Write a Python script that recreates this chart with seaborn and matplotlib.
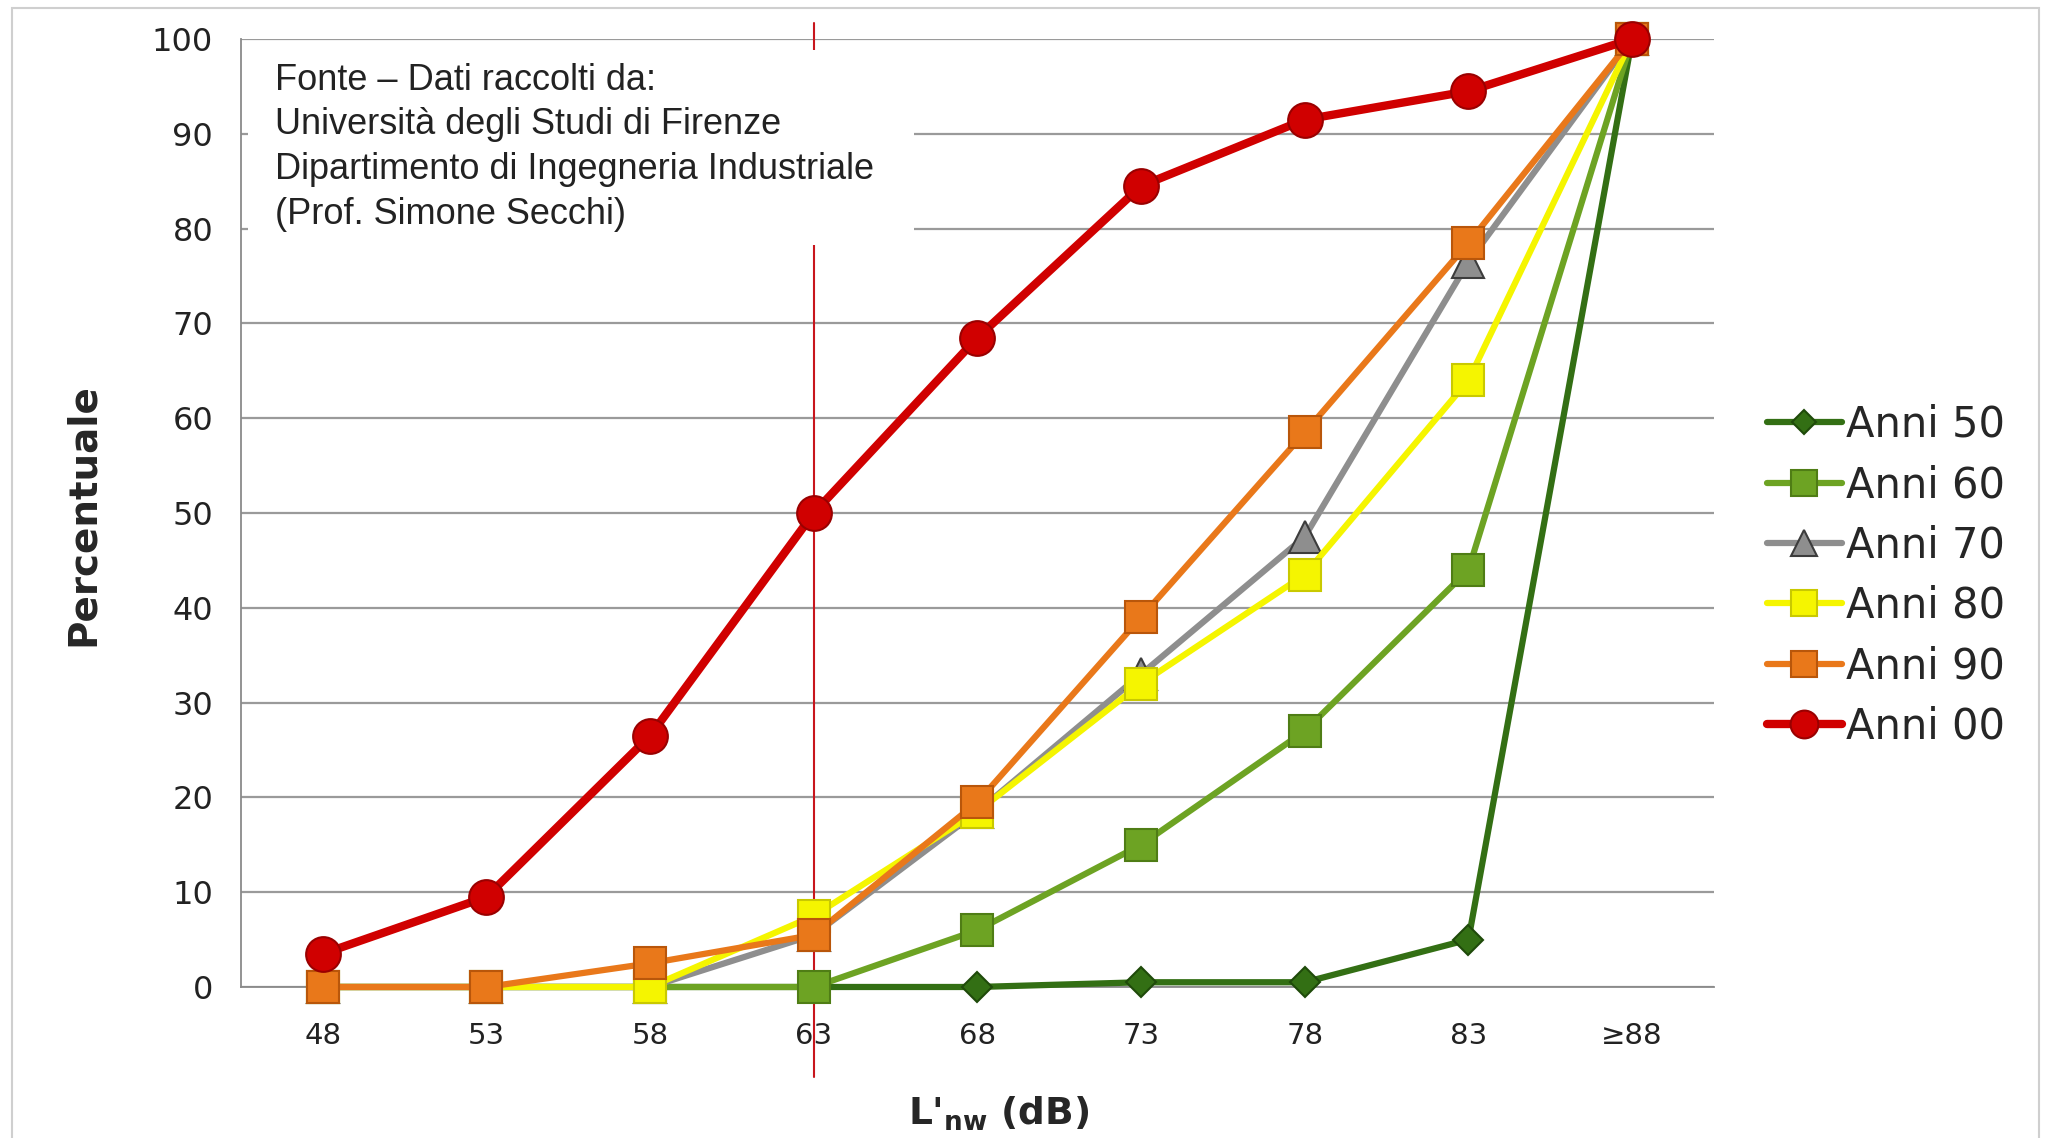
import matplotlib
matplotlib.use("Agg")
import matplotlib.pyplot as plt
from matplotlib.patches import Rectangle
from matplotlib.ticker import FixedLocator
import pandas as pd
import seaborn as sns

# valori (percentuale cumulata)
categorie = ["48", "53", "58", "63", "68", "73", "78", "83", "≥88"]
anni_50 = [0, 0, 0, 0, 0, 0.5, 0.5, 5, 100]
anni_60 = [0, 0, 0, 0, 6, 15, 27, 44, 100]
anni_70 = [0, 0, 0, 5.5, 18.5, 33, 47.5, 76.5, 100]
anni_80 = [0, 0, 0, 7.5, 18.5, 32, 43.5, 64, 100]
anni_90 = [0, 0, 2.5, 5.5, 19.5, 39, 58.5, 78.5, 100]
anni_00 = [3.5, 9.5, 26.5, 50, 68.5, 84.5, 91.5, 94.5, 100]
serie = ["Anni 50", "Anni 60", "Anni 70", "Anni 80", "Anni 90", "Anni 00"]
valori = [anni_50, anni_60, anni_70, anni_80, anni_90, anni_00]

fonte = ("Fonte \u2013 Dati raccolti da:\n"
         "Università degli Studi di Firenze\n"
         "Dipartimento di Ingegneria Industriale\n"
         "(Prof. Simone Secchi)")

stili = {
    "Anni 50": dict(color="#336f14", marker="D", markersize=15, mec="#1f4a0a", lw=4.5),
    "Anni 60": dict(color="#6da323", marker="s", markersize=23, mec="#4f7d15", lw=4.5),
    "Anni 70": dict(color="#8e8e8e", marker="^", markersize=23, mec="#3c3c3c", lw=4.5),
    "Anni 80": dict(color="#f5f500", marker="s", markersize=23, mec="#c9c900", lw=4.5),
    "Anni 90": dict(color="#e9781a", marker="s", markersize=23, mec="#b9560a", lw=4.5),
    "Anni 00": dict(color="#d00000", marker="o", markersize=25, mec="#9a0000", lw=6),
}

rows = []
for nome, vals in zip(serie, valori):
    for c, v in zip(categorie, vals):
        rows.append({"Lnw": c, "Percentuale": v, "Serie": nome})
df = pd.DataFrame(rows)

sns.set_style("white")
plt.rcParams["font.family"] = ["DejaVu Sans"]

fig = plt.figure(figsize=(20.47, 11.38), dpi=100)
ax = fig.add_axes([0.1177, 0.1327, 0.7196, 0.833])

for i, nome in enumerate(serie):
    st = stili[nome]
    sns.lineplot(data=df[df["Serie"] == nome], x="Lnw", y="Percentuale",
                 sort=False, ax=ax, label=nome, color=st["color"],
                 marker=st["marker"], markersize=st["markersize"],
                 markeredgecolor=st["mec"], markeredgewidth=1.5,
                 linewidth=st["lw"], clip_on=False, zorder=3 + i)

ax.set_xlim(-0.5, len(categorie) - 0.5)
ax.set_ylim(0, 100)
ax.set_yticks(range(0, 101, 10))
ax.yaxis.grid(True, color="#9a9a9a", lw=1.6, zorder=0.5)
ax.set_axisbelow(True)
ax.xaxis.grid(False)
for s in ["top", "right"]:
    ax.spines[s].set_visible(False)
for s in ["left", "bottom"]:
    ax.spines[s].set_color("#8a8a8a")
    ax.spines[s].set_linewidth(1.3)

ax.tick_params(axis="y", labelsize=23, length=8, width=1.2, color="#8a8a8a",
               pad=12, labelcolor="#222222")
ax.tick_params(axis="x", which="major", labelsize=21, length=0, pad=25,
               labelcolor="#222222")
ax.xaxis.set_minor_locator(FixedLocator([i + 0.5 for i in range(-1, len(categorie))]))
ax.tick_params(axis="x", which="minor", length=9, width=1.2, color="#8a8a8a")
ax.set_xlabel("")
ax.set_ylabel("")

# linea di riferimento a 63 dB
ax.axvline(3, ymin=-0.095, ymax=1.017, color="#c8161d", lw=1.5,
           clip_on=False, zorder=1)

# riquadro della fonte
ax.add_patch(Rectangle((0.005, 0.783), 0.452, 0.205, transform=ax.transAxes,
                       facecolor="white", edgecolor="none", zorder=1.5))
ax.text(0.023, 0.975, fonte, transform=ax.transAxes, va="top", ha="left",
        fontsize=26, linespacing=1.36, color="#222222", zorder=1.6,
        family=["Liberation Sans", "DejaVu Sans"])

fig.text(0.0405, 0.5475, "Percentuale", rotation=90, ha="center", va="center",
         fontsize=28, fontweight="bold")
fig.text(0.488, 0.021, r"L'$_{\mathbf{nw}}$ (dB)", ha="center", va="center",
         fontsize=27, fontweight="bold")

handles, labels = ax.get_legend_handles_labels()
ax.get_legend().remove()
fig.legend(handles, labels, loc="center left", bbox_to_anchor=(0.853, 0.494),
           frameon=False, fontsize=30, handlelength=1.8, handletextpad=0.1,
           labelspacing=0.44, borderpad=0, markerscale=0.8)

fig.add_artist(Rectangle((12 / 2047, -0.05), 2027 / 2047, 1.043,
                         transform=fig.transFigure, fill=False,
                         edgecolor="#cfcfcf", lw=1.5))

fig.savefig("out.png", dpi=100)
